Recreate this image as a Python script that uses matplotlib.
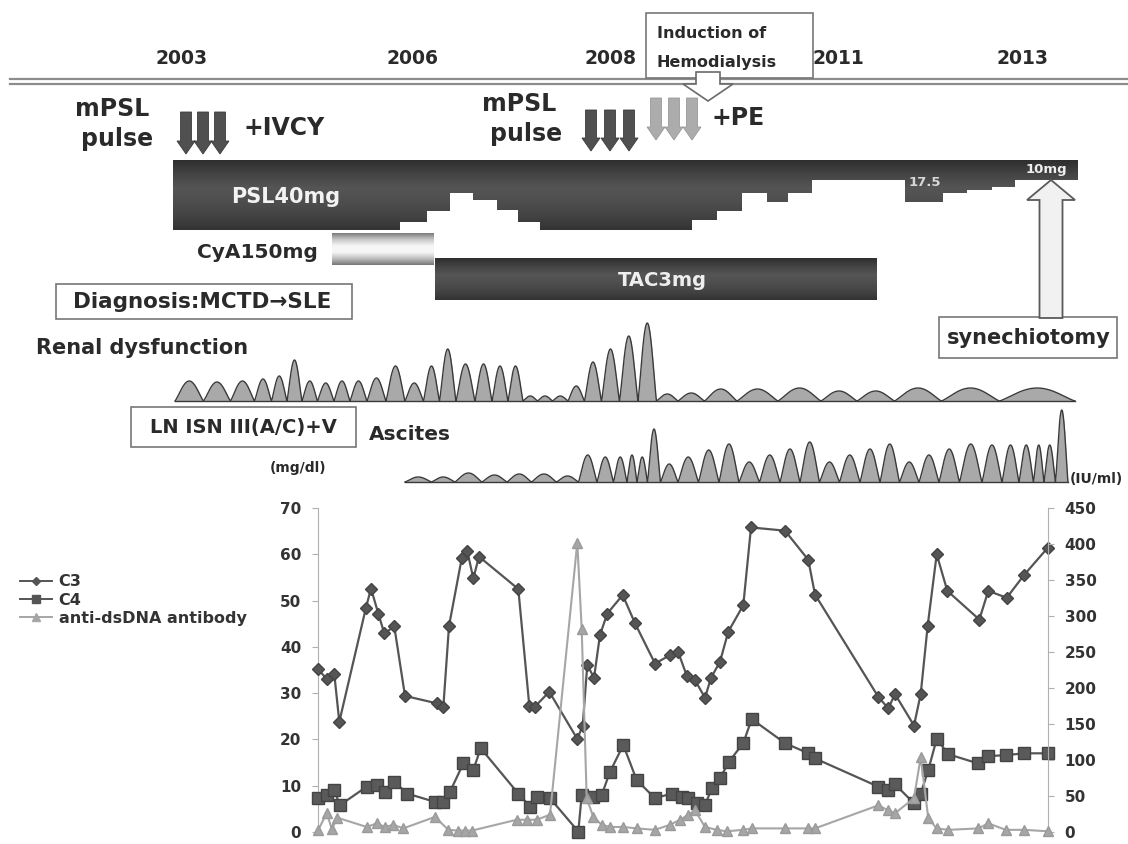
import numpy as np
import matplotlib
matplotlib.use('Agg')
import matplotlib.pyplot as plt
from matplotlib.patches import Polygon, Rectangle, FancyArrow
from matplotlib.colors import LinearSegmentedColormap
from matplotlib.lines import Line2D

plt.rcParams['font.family'] = ['DejaVu Sans']
plt.rcParams['font.weight'] = 'bold'

# ---------------- data ----------------
years = ['2003', '2006', '2008', '2011', '2013']
year_pos = [182, 412, 611, 838, 1023]

# PSL schedule (timeline position of step edges, relative dose thickness)
psl_edges = [173, 400, 427, 450, 473, 497, 518, 540, 692, 717, 742, 767, 788,
             812, 905, 943, 967, 992, 1015, 1078]
psl_level = [70, 62, 51, 33, 40, 50, 62, 70, 60, 51, 33, 42, 33, 20, 42, 33,
             30, 27, 20]
cya_period = [332, 434]
tac_period = [435, 877]

# renal dysfunction episodes (timeline position, severity)
renal_t = [191, 216, 245, 264, 279, 295, 309, 326, 342, 358, 376, 396, 414,
           433, 446, 466, 484, 500, 516, 530, 545, 560, 576, 593, 610, 629,
           647, 666, 690, 719, 755, 801, 841, 873, 916, 967, 1032]
renal_h = [20, 19, 20, 22, 25, 41, 20, 18, 20, 20, 23, 35, 18, 35, 52, 37, 37,
           35, 35, 5, 5, 5, 15, 39, 52, 65, 78, 7, 8, 12, 12, 13, 10, 10, 13,
           13, 13]
renal_span = [175, 1075]

# ascites episodes
asc_t = [421, 442, 468, 496, 518, 545, 568, 589, 605, 622, 632, 642, 653, 668,
         688, 709, 729, 749, 770, 790, 810, 829, 850, 870, 890, 909, 929, 949,
         970, 994, 1010, 1028, 1039, 1049, 1062]
asc_h = [5, 5, 9, 7, 8, 8, 6, 27, 25, 25, 27, 25, 53, 18, 25, 32, 38, 20, 27,
         33, 40, 20, 27, 33, 38, 20, 27, 33, 38, 37, 37, 37, 37, 37, 72]
asc_span = [405, 1068]

# laboratory data
c3_t = [318.3, 326.7, 334.3, 339.3, 366, 371, 378.3, 384.3, 394.3, 405, 436.7,
        443.3, 449, 461.7, 467.3, 473.3, 479, 518.3, 529.3, 535, 549.3, 577.3,
        582.7, 587.3, 594, 600, 607.3, 622.7, 635, 655, 670, 678.3, 686.7, 695,
        705, 711, 720, 728.3, 743.3, 751, 785, 808.3, 815, 878.3, 888.3, 895,
        914, 920.7, 927.7, 936.7, 947.3, 979.3, 988.3, 1006.7, 1024, 1047.7]
c3 = [35.2, 33.0, 34.1, 23.8, 48.5, 52.6, 47.2, 42.9, 44.4, 29.4, 27.8, 26.9,
      44.5, 59.1, 60.7, 54.8, 59.5, 52.5, 27.3, 27.1, 30.3, 20.1, 23.0, 36.1,
      33.3, 42.6, 47.2, 51.2, 45.1, 36.4, 38.2, 38.8, 33.8, 32.8, 29.0, 33.3,
      36.8, 43.3, 49.0, 65.8, 65.1, 58.8, 51.3, 29.2, 26.7, 29.8, 23.0, 29.8,
      44.6, 60.0, 52.1, 45.9, 52.1, 50.6, 55.5, 61.4]

c4_t = [318.3, 327.3, 334, 340, 366.7, 376.7, 385, 394, 407.3, 435, 443.3, 450,
        463.3, 473.3, 480.7, 518.3, 530, 536.7, 550, 578.3, 581.7, 593.3, 601.7,
        610, 623.3, 636.7, 655, 671.7, 681.7, 688.3, 696.7, 705, 711.7, 720,
        729, 743.3, 751.7, 785, 808.3, 815, 878.3, 888.3, 895, 914, 920.7,
        928.3, 936.7, 948.3, 978.3, 988.3, 1005.7, 1024, 1047.7]
c4 = [7.3, 8.0, 9.1, 5.8, 9.8, 10.2, 8.7, 10.9, 8.3, 6.5, 6.5, 8.7, 14.8, 13.4,
      18.1, 8.3, 5.5, 7.6, 7.3, 0.1, 8.0, 7.6, 8.0, 13.0, 18.8, 11.2, 7.3, 8.3,
      7.6, 7.3, 6.2, 5.8, 9.4, 11.6, 15.2, 19.2, 24.4, 19.2, 17.0, 15.9, 9.8,
      9.1, 10.3, 6.2, 8.3, 13.4, 20.1, 16.8, 14.8, 16.4, 16.6, 17.0, 17.0]

ds_t = [318.3, 326.7, 332, 337, 366.7, 376.7, 385, 393.3, 403.3, 435, 448.3,
        458, 465, 472, 516.7, 526.7, 536.7, 550, 577.3, 581.7, 586.7, 593.3,
        601.7, 610, 623.3, 636.7, 655, 670, 680, 688.3, 695, 705, 716.7, 726.7,
        743.3, 751.7, 785, 808.3, 815, 878.3, 888.3, 895, 914, 920.7, 928.3,
        936.7, 948.3, 978.3, 988.3, 1005.7, 1024, 1047.7]
ds = [3, 26, 4, 20, 7, 12, 7, 10, 5, 21, 3, 2, 2, 2, 17, 17, 17, 24, 402, 282,
      47, 21, 10, 7, 7, 5, 3, 10, 17, 24, 30, 7, 3, 1, 3, 5, 5, 5, 5, 37, 30,
      26, 47, 104, 19, 5, 3, 5, 12, 3, 3, 1]

left_ticks = [0, 10, 20, 30, 40, 50, 60, 70]
right_ticks = [0, 50, 100, 150, 200, 250, 300, 350, 400, 450]

# ---------------- figure ----------------
W, H = 1128, 844
fig = plt.figure(figsize=(W / 100, H / 100), dpi=100)
fig.patch.set_facecolor('white')
ax0 = fig.add_axes([0, 0, 1, 1])
ax0.axis('off')

TXT = '#2a2a2a'


def grad_poly(ax, verts, ytop, ybot, colors, z=2):
    xs = [v[0] for v in verts]
    poly = Polygon(verts, closed=True, fc='none', ec='none', zorder=z)
    ax.add_patch(poly)
    cmap = LinearSegmentedColormap.from_list('g', colors)
    g = np.linspace(0, 1, 256).reshape(-1, 1)
    im = ax.imshow(g, extent=[min(xs), max(xs), ybot, ytop], cmap=cmap,
                   aspect='auto', zorder=z, interpolation='bilinear')
    im.set_clip_path(poly)


dark_cols = ['#2e2e2e', '#444444', '#555555', '#4e4e4e', '#434343', '#333333']
light_cols = ['#7a7a7a', '#c8c8c8', '#f6f6f6', '#f6f6f6', '#bdbdbd', '#767676']

# time axis double line
for yy in (78.5, 83.5):
    ax0.plot([10, W], [yy, yy], color='#8c8c8c', lw=1.6, zorder=1)
for lab, xp in zip(years, year_pos):
    ax0.text(xp, 58, lab, ha='center', va='center', fontsize=13.5, color=TXT)

# Induction box
ax0.add_patch(Rectangle((646, 13), 167, 65, fc='white', ec='#777777', lw=1.2,
                        zorder=3))
ax0.text(657, 33, 'Induction of', ha='left', va='center', fontsize=11.5,
         color=TXT, zorder=4)
ax0.text(657, 62, 'Hemodialysis', ha='left', va='center', fontsize=11.5,
         color=TXT, zorder=4)
ax0.add_patch(FancyArrow(708, 72, 0, 29, width=24, head_width=50,
                         head_length=17, length_includes_head=True,
                         fc='white', ec='#6a6a6a', lw=1.2, zorder=5))

# pulse therapies
ax0.text(112, 109, 'mPSL', ha='center', va='center', fontsize=17, color=TXT)
ax0.text(117, 139, 'pulse', ha='center', va='center', fontsize=17, color=TXT)
ax0.text(519, 104, 'mPSL', ha='center', va='center', fontsize=17, color=TXT)
ax0.text(526, 134, 'pulse', ha='center', va='center', fontsize=17, color=TXT)
ax0.text(243, 128, '+IVCY', ha='left', va='center', fontsize=17, color=TXT)
ax0.text(711, 118, '+PE', ha='left', va='center', fontsize=17, color=TXT)

for cx in (186, 203, 220):
    ax0.add_patch(FancyArrow(cx, 112, 0, 42, width=11, head_width=18,
                             head_length=13, length_includes_head=True,
                             fc='#505050', ec='#3c3c3c', lw=0.6, zorder=3))
for cx in (591, 610, 629):
    ax0.add_patch(FancyArrow(cx, 110, 0, 41, width=11, head_width=18,
                             head_length=13, length_includes_head=True,
                             fc='#505050', ec='#3c3c3c', lw=0.6, zorder=3))
for cx in (656, 674, 692):
    ax0.add_patch(FancyArrow(cx, 98, 0, 42, width=11, head_width=18,
                             head_length=13, length_includes_head=True,
                             fc='#acacac', ec='#9a9a9a', lw=0.6, zorder=3))

# PSL bar
top = 160
verts = [(psl_edges[0], top), (psl_edges[-1], top)]
for i in reversed(range(len(psl_level))):
    verts += [(psl_edges[i + 1], top + psl_level[i]),
              (psl_edges[i], top + psl_level[i])]
grad_poly(ax0, verts, top, top + max(psl_level), dark_cols)
ax0.text(286, 197, 'PSL40mg', ha='center', va='center', fontsize=15,
         color='#f2f2f2', zorder=6)
ax0.text(925, 182, '17.5', ha='center', va='center', fontsize=9.5,
         color='#d8d8d8', zorder=6)
ax0.text(1046, 170, '10mg', ha='center', va='center', fontsize=9.5,
         color='#eeeeee', zorder=6)

# CyA / TAC bars
grad_poly(ax0, [(cya_period[0], 233), (cya_period[1], 233),
                (cya_period[1], 265), (cya_period[0], 265)], 233, 265,
          light_cols)
ax0.text(318, 252, 'CyA150mg', ha='right', va='center', fontsize=14.5,
         color=TXT)
grad_poly(ax0, [(tac_period[0], 258), (tac_period[1], 258),
                (tac_period[1], 300), (tac_period[0], 300)], 258, 300,
          dark_cols)
ax0.text(662, 281, 'TAC3mg', ha='center', va='center', fontsize=14,
         color='#eeeeee', zorder=6)

# Diagnosis box
ax0.add_patch(Rectangle((56, 284), 296, 35, fc='white', ec='#777777', lw=1.2,
                        zorder=3))
ax0.text(202, 302, 'Diagnosis:MCTD\u2192SLE', ha='center', va='center',
         fontsize=15.5, color=TXT, zorder=4)

# synechiotomy
ax0.add_patch(FancyArrow(1051, 318, 0, -138, width=23, head_width=48,
                         head_length=20, length_includes_head=True,
                         fc='#f1f1f1', ec='#5a5a5a', lw=1.3, zorder=5))
ax0.add_patch(Rectangle((939, 317), 178, 41, fc='white', ec='#777777', lw=1.2,
                        zorder=3))
ax0.text(1029, 338, 'synechiotomy', ha='center', va='center', fontsize=15,
         color=TXT, zorder=4)


def waves(ax, centers, heights, span, base):
    c = np.asarray(centers, float)
    b = np.concatenate([[span[0]], (c[:-1] + c[1:]) / 2, [span[1]]])
    xs, ys = [], []
    for i, h in enumerate(heights):
        u = np.linspace(0, 1, 40)
        xs.append(b[i] + u * (b[i + 1] - b[i]))
        ys.append(h * np.sin(np.pi * u) ** 1.2)
    x = np.concatenate(xs)
    y = np.concatenate(ys)
    ax.fill_between(x, base, base - y, color='#a9a9a9', lw=0, zorder=2)
    ax.plot(x, base - y, color='#3a3a3a', lw=1.0, zorder=3)
    ax.plot([span[0], span[1]], [base, base], color='#3a3a3a', lw=1.0,
            zorder=3)


ax0.text(36, 348, 'Renal dysfunction', ha='left', va='center', fontsize=15,
         color=TXT)
waves(ax0, renal_t, renal_h, renal_span, 401)

ax0.add_patch(Rectangle((131, 407), 225, 40, fc='white', ec='#777777', lw=1.2,
                        zorder=3))
ax0.text(243, 427, 'LN ISN III(A/C)+V', ha='center', va='center',
         fontsize=14, color=TXT, zorder=4)
ax0.text(369, 435, 'Ascites', ha='left', va='center', fontsize=14.5,
         color=TXT)
waves(ax0, asc_t, asc_h, asc_span, 482)

ax0.text(298, 468, '(mg/dl)', ha='center', va='center', fontsize=10,
         color=TXT)
ax0.text(1070, 479, '(IU/ml)', ha='left', va='center', fontsize=10,
         color=TXT)

ax0.set_xlim(0, W)
ax0.set_ylim(H, 0)

# ---------------- laboratory chart ----------------
ax = fig.add_axes([318 / W, 12 / H, 730 / W, 324 / H])
ax.patch.set_alpha(0)
ax.set_xlim(318, 1048)
ax.set_ylim(0, 70)
ax.set_xticks([])
ax.set_yticks(left_ticks)
for s in ('top', 'bottom', 'right'):
    ax.spines[s].set_visible(False)
ax.spines['left'].set_color('#b0b0b0')
ax.tick_params(axis='y', direction='out', length=4, color='#b0b0b0',
               labelsize=11, labelcolor='#333333', pad=8)

ax2 = ax.twinx()
ax2.set_ylim(0, 450)
ax2.set_yticks(right_ticks)
for s in ('top', 'bottom', 'left'):
    ax2.spines[s].set_visible(False)
ax2.spines['right'].set_color('#b0b0b0')
ax2.tick_params(axis='y', direction='out', length=4, color='#b0b0b0',
                labelsize=11, labelcolor='#333333', pad=8)

l1, = ax.plot(c3_t, c3, color='#555555', lw=1.6, marker='D', ms=6.5,
              mfc='#555555', mec='#444444', clip_on=False, zorder=4)
l2, = ax.plot(c4_t, c4, color='#555555', lw=1.6, marker='s', ms=8.5,
              mfc='#5a5a5a', mec='#444444', clip_on=False, zorder=4)
l3, = ax2.plot(ds_t, ds, color='#a6a6a6', lw=1.5, marker='^', ms=7,
               mfc='#a6a6a6', mec='#9a9a9a', clip_on=False, zorder=3)

h1 = Line2D([], [], color='#555555', lw=1.4, marker='D', ms=4.5)
h2 = Line2D([], [], color='#555555', lw=1.4, marker='s', ms=5.5)
h3 = Line2D([], [], color='#a6a6a6', lw=1.4, marker='^', ms=5.5)
leg = fig.legend([h1, h2, h3], ['C3', 'C4', 'anti-dsDNA antibody'],
                 loc='upper left', bbox_to_anchor=(6 / W, 1 - 560 / H),
                 frameon=False, fontsize=11.5, handlelength=2.0,
                 labelspacing=0.2, handletextpad=0.4)
for t in leg.get_texts():
    t.set_color('#333333')

fig.savefig('out.png', dpi=100, facecolor='white')
